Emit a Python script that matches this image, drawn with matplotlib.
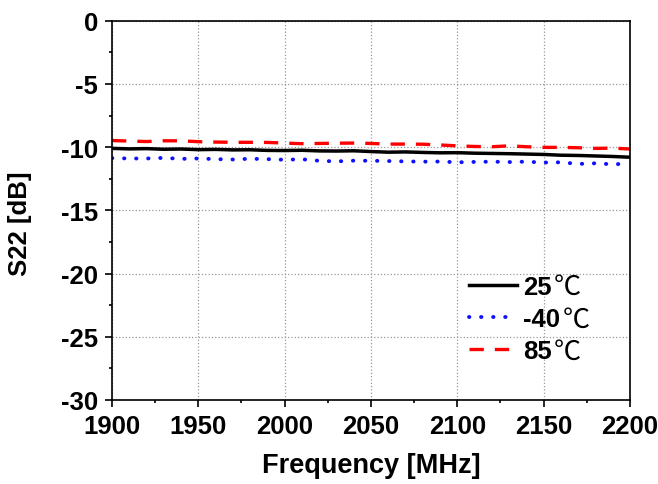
import numpy as np
import matplotlib
matplotlib.use("Agg")
import matplotlib.pyplot as plt
from matplotlib.ticker import MultipleLocator

# S22 vs frequency at three temperatures
freq = [1900, 1910, 1920, 1930, 1940, 1950, 1960, 1970, 1980, 1990,
        2000, 2010, 2020, 2030, 2040, 2050, 2060, 2070, 2080, 2090,
        2100, 2110, 2120, 2130, 2140, 2150, 2160, 2170, 2180, 2190, 2200]

s22_25 = [-10.10, -10.14, -10.12, -10.17, -10.15, -10.20, -10.18, -10.22, -10.21, -10.26,
          -10.27, -10.25, -10.30, -10.31, -10.29, -10.35, -10.40, -10.38, -10.42, -10.45,
          -10.44, -10.48, -10.50, -10.52, -10.55, -10.58, -10.64, -10.66, -10.70, -10.74, -10.80]

s22_m40 = [-10.87, -10.90, -10.90, -10.85, -10.93, -10.90, -10.95, -10.98, -10.92, -10.95,
           -11.00, -10.96, -11.08, -11.13, -11.07, -11.08, -11.10, -11.13, -11.15, -11.14,
           -11.20, -11.17, -11.15, -11.18, -11.15, -11.22, -11.20, -11.33, -11.28, -11.36, -11.30]

s22_85 = [-9.48, -9.52, -9.56, -9.50, -9.50, -9.57, -9.60, -9.62, -9.62, -9.63,
          -9.68, -9.73, -9.71, -9.69, -9.68, -9.71, -9.76, -9.76, -9.77, -9.83,
          -9.90, -9.95, -9.97, -9.90, -9.97, -10.02, -10.02, -10.05, -10.10, -10.08, -10.15]

labels = ["25", "-40", "85"]
unit = "\u2103"

plt.rcParams['font.family'] = ['Liberation Sans', 'Noto Sans CJK SC', 'DejaVu Sans']
plt.rcParams['font.weight'] = 'bold'
plt.rcParams['axes.unicode_minus'] = False
fs = 18.5

fig = plt.figure(figsize=(6.58, 4.85), dpi=100)
ax = fig.add_axes([0.1702, 0.1732, 0.7872, 0.7821])

ax.plot(freq, s22_25, color='black', lw=2.5, label=labels[0])
ax.plot(freq, s22_m40, color='#1010ff', lw=2.8, linestyle=(0, (0.1, 3.0)),
        dash_capstyle='round', label=labels[1])
ax.plot(freq, s22_85, color='#ff0000', lw=2.4, linestyle=(0, (4.3, 3.3)), label=labels[2])

ax.set_xlim(1900, 2200)
ax.set_ylim(-30, 0)
ax.xaxis.set_major_locator(MultipleLocator(50))
ax.xaxis.set_minor_locator(MultipleLocator(25))
ax.yaxis.set_major_locator(MultipleLocator(5))
ax.yaxis.set_minor_locator(MultipleLocator(2.5))

ax.tick_params(which='major', direction='out', length=5, width=1.2, labelsize=fs, pad=5)
ax.tick_params(which='minor', direction='out', length=2.5, width=1.2)
for sp in ax.spines.values():
    sp.set_linewidth(1.2)

ax.grid(True, which='major', linestyle=':', color='#999999', lw=0.9)

ax.set_xlabel("Frequency [MHz]", fontsize=19.5, fontweight='bold', va='center', ha='center')
ax.set_ylabel("S22 [dB]", fontsize=fs, fontweight='bold', va='center', ha='center')
ax.xaxis.set_label_coords(0.5, -0.171)
ax.yaxis.set_label_coords(-0.178, 0.467)

leg = ax.legend(loc='upper left', bbox_to_anchor=(0.69, 0.33), frameon=False,
                fontsize=fs, handlelength=1.85, handletextpad=0.25,
                labelspacing=0.32, borderpad=0, borderaxespad=0)

# degree-Celsius sign in a CJK face, placed right after each legend label
fig.canvas.draw()
rend = fig.canvas.get_renderer()
W, H = fig.bbox.width, fig.bbox.height
for t in leg.get_texts():
    bb = t.get_window_extent(rend)
    fig.text((bb.x1 + 2) / W, (bb.y0 + bb.y1) / 2 / H, unit, fontsize=19.5,
             fontweight='normal', family=['Noto Sans CJK SC', 'DejaVu Sans'],
             va='center', ha='left')

fig.savefig("out.png", dpi=100)
